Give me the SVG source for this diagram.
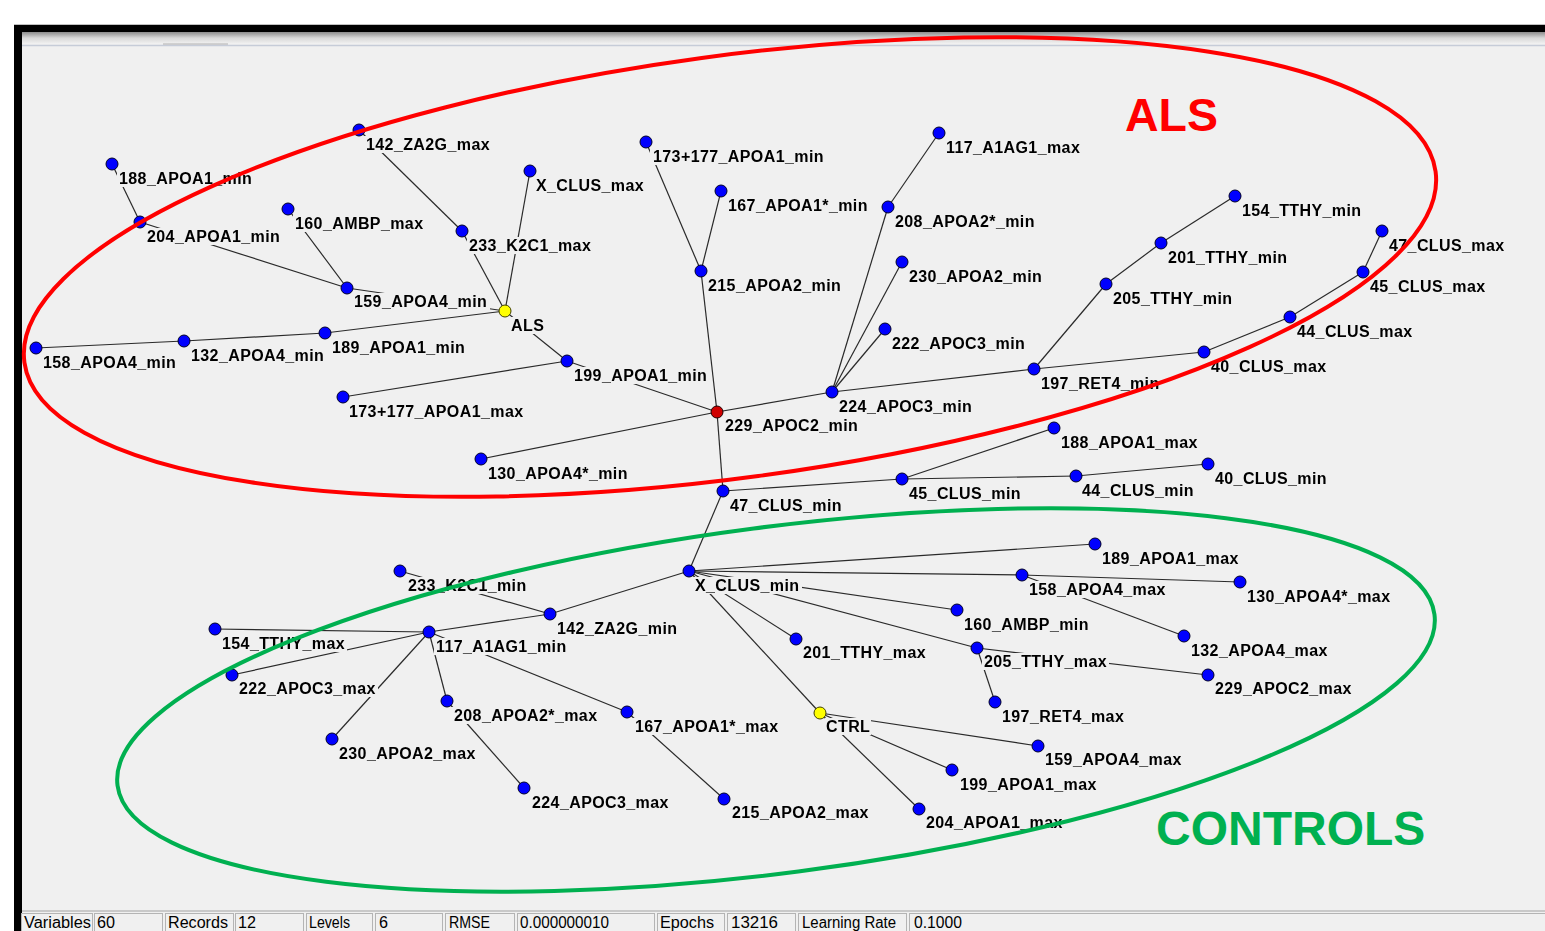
<svg xmlns="http://www.w3.org/2000/svg" width="1545" height="931" viewBox="0 0 1545 931">
<style>
.lbl{font-family:"Liberation Sans",Arial,sans-serif;font-weight:bold;font-size:16px;letter-spacing:0.4px;fill:#000;filter:url(#lbg)}
.dot{fill:#0000ff;stroke:#000028;stroke-width:1}
.cls{fill:#ffff00;stroke:#404000;stroke-width:1}
.red{fill:#d00000;stroke:#200000;stroke-width:1}
#connectors line{stroke:#2a2a2a;stroke-width:1.2}
.sb{font-family:"Liberation Sans",Arial,sans-serif;font-size:16px;fill:#000}
.cell{fill:#f0f0f0;stroke:#b4b4b4;stroke-width:1}
.big{font-family:"Liberation Sans",Arial,sans-serif;font-weight:bold}
</style>
<defs>
<filter id="lbg" x="-0.015" y="0" width="1.03" height="1" color-interpolation-filters="sRGB">
<feFlood flood-color="#f0f0f0" result="f"/>
<feMerge><feMergeNode in="f"/><feMergeNode in="SourceGraphic"/></feMerge>
</filter>
<linearGradient id="tb" x1="0" y1="0" x2="0" y2="1">
<stop offset="0" stop-color="#8c8c8c"/>
<stop offset="0.5" stop-color="#d8d8d8"/>
<stop offset="1" stop-color="#f2f2f2"/>
</linearGradient>
</defs>
<rect x="0" y="0" width="1545" height="931" fill="#ffffff"/>
<rect x="22" y="32" width="1523" height="899" fill="#f0f0f0"/>
<rect x="22" y="32" width="1523" height="12" fill="url(#tb)"/>
<line x1="22" y1="45.5" x2="1545" y2="45.5" stroke="#c6ccd8" stroke-width="1.5"/>
<line x1="163" y1="44" x2="228" y2="44" stroke="#b0b0b0" stroke-width="1"/>
<line x1="14" y1="24.5" x2="1545" y2="24.5" stroke="#c0c0c0" stroke-width="1"/>
<rect x="14" y="25" width="1531" height="7" fill="#000"/>
<rect x="14" y="25" width="8" height="906" fill="#000"/>

<g id="connectors">
<line x1="112" y1="164" x2="140" y2="222"/>
<line x1="140" y1="222" x2="347" y2="288"/>
<line x1="288" y1="209" x2="347" y2="288"/>
<line x1="347" y1="288" x2="505" y2="311"/>
<line x1="359" y1="130" x2="462" y2="231"/>
<line x1="462" y1="231" x2="505" y2="311"/>
<line x1="530" y1="171" x2="505" y2="311"/>
<line x1="505" y1="311" x2="325" y2="333"/>
<line x1="325" y1="333" x2="184" y2="341"/>
<line x1="184" y1="341" x2="36" y2="348"/>
<line x1="505" y1="311" x2="567" y2="361"/>
<line x1="567" y1="361" x2="343" y2="397"/>
<line x1="567" y1="361" x2="717" y2="412"/>
<line x1="717" y1="412" x2="481" y2="459"/>
<line x1="717" y1="412" x2="701" y2="271"/>
<line x1="701" y1="271" x2="646" y2="142"/>
<line x1="701" y1="271" x2="721" y2="191"/>
<line x1="717" y1="412" x2="832" y2="392"/>
<line x1="832" y1="392" x2="888" y2="207"/>
<line x1="888" y1="207" x2="939" y2="133"/>
<line x1="832" y1="392" x2="902" y2="262"/>
<line x1="832" y1="392" x2="885" y2="329"/>
<line x1="832" y1="392" x2="1034" y2="369"/>
<line x1="1034" y1="369" x2="1106" y2="284"/>
<line x1="1106" y1="284" x2="1161" y2="243"/>
<line x1="1161" y1="243" x2="1235" y2="196"/>
<line x1="1034" y1="369" x2="1204" y2="352"/>
<line x1="1204" y1="352" x2="1290" y2="317"/>
<line x1="1290" y1="317" x2="1363" y2="272"/>
<line x1="1363" y1="272" x2="1382" y2="231"/>
<line x1="717" y1="412" x2="723" y2="491"/>
<line x1="723" y1="491" x2="902" y2="479"/>
<line x1="902" y1="479" x2="1054" y2="428"/>
<line x1="902" y1="479" x2="1076" y2="476"/>
<line x1="1076" y1="476" x2="1208" y2="464"/>
<line x1="723" y1="491" x2="689" y2="571"/>
<line x1="689" y1="571" x2="1095" y2="544"/>
<line x1="689" y1="571" x2="1022" y2="575"/>
<line x1="1022" y1="575" x2="1240" y2="582"/>
<line x1="1022" y1="575" x2="1184" y2="636"/>
<line x1="689" y1="571" x2="957" y2="610"/>
<line x1="689" y1="571" x2="977" y2="648"/>
<line x1="977" y1="648" x2="1208" y2="675"/>
<line x1="977" y1="648" x2="995" y2="702"/>
<line x1="689" y1="571" x2="796" y2="639"/>
<line x1="689" y1="571" x2="820" y2="713"/>
<line x1="820" y1="713" x2="1038" y2="746"/>
<line x1="820" y1="713" x2="952" y2="770"/>
<line x1="820" y1="713" x2="919" y2="809"/>
<line x1="689" y1="571" x2="550" y2="614"/>
<line x1="550" y1="614" x2="400" y2="571"/>
<line x1="550" y1="614" x2="429" y2="632"/>
<line x1="429" y1="632" x2="215" y2="629"/>
<line x1="429" y1="632" x2="232" y2="675"/>
<line x1="429" y1="632" x2="332" y2="739"/>
<line x1="429" y1="632" x2="447" y2="701"/>
<line x1="447" y1="701" x2="524" y2="788"/>
<line x1="429" y1="632" x2="627" y2="712"/>
<line x1="627" y1="712" x2="724" y2="799"/>
</g>

<g id="nodes">
<g id="n188_APOA1_min"><text class="lbl" x="119" y="184">188_APOA1_min</text><circle class="dot" cx="112" cy="164" r="6"/></g>
<g id="n204_APOA1_min"><text class="lbl" x="147" y="242">204_APOA1_min</text><circle class="dot" cx="140" cy="222" r="6"/></g>
<g id="n142_ZA2G_max"><text class="lbl" x="366" y="150">142_ZA2G_max</text><circle class="dot" cx="359" cy="130" r="6"/></g>
<g id="n160_AMBP_max"><text class="lbl" x="295" y="229">160_AMBP_max</text><circle class="dot" cx="288" cy="209" r="6"/></g>
<g id="n233_K2C1_max"><text class="lbl" x="469" y="251">233_K2C1_max</text><circle class="dot" cx="462" cy="231" r="6"/></g>
<g id="nX_CLUS_max"><text class="lbl" x="536" y="191">X_CLUS_max</text><circle class="dot" cx="530" cy="171" r="6"/></g>
<g id="n159_APOA4_min"><text class="lbl" x="354" y="307">159_APOA4_min</text><circle class="dot" cx="347" cy="288" r="6"/></g>
<g id="nALS"><text class="lbl" x="511" y="331">ALS</text><circle class="cls" cx="505" cy="311" r="6"/></g>
<g id="n158_APOA4_min"><text class="lbl" x="43" y="368">158_APOA4_min</text><circle class="dot" cx="36" cy="348" r="6"/></g>
<g id="n132_APOA4_min"><text class="lbl" x="191" y="361">132_APOA4_min</text><circle class="dot" cx="184" cy="341" r="6"/></g>
<g id="n189_APOA1_min"><text class="lbl" x="332" y="353">189_APOA1_min</text><circle class="dot" cx="325" cy="333" r="6"/></g>
<g id="n199_APOA1_min"><text class="lbl" x="574" y="381">199_APOA1_min</text><circle class="dot" cx="567" cy="361" r="6"/></g>
<g id="n173p177_APOA1_max"><text class="lbl" x="349" y="417">173+177_APOA1_max</text><circle class="dot" cx="343" cy="397" r="6"/></g>
<g id="n130_APOA4s_min"><text class="lbl" x="488" y="479">130_APOA4*_min</text><circle class="dot" cx="481" cy="459" r="6"/></g>
<g id="n229_APOC2_min"><text class="lbl" x="725" y="431">229_APOC2_min</text><circle class="red" cx="717" cy="412" r="6"/></g>
<g id="n215_APOA2_min"><text class="lbl" x="708" y="291">215_APOA2_min</text><circle class="dot" cx="701" cy="271" r="6"/></g>
<g id="n173p177_APOA1_min"><text class="lbl" x="653" y="162">173+177_APOA1_min</text><circle class="dot" cx="646" cy="142" r="6"/></g>
<g id="n167_APOA1s_min"><text class="lbl" x="728" y="211">167_APOA1*_min</text><circle class="dot" cx="721" cy="191" r="6"/></g>
<g id="n224_APOC3_min"><text class="lbl" x="839" y="412">224_APOC3_min</text><circle class="dot" cx="832" cy="392" r="6"/></g>
<g id="n208_APOA2s_min"><text class="lbl" x="895" y="227">208_APOA2*_min</text><circle class="dot" cx="888" cy="207" r="6"/></g>
<g id="n117_A1AG1_max"><text class="lbl" x="946" y="153">117_A1AG1_max</text><circle class="dot" cx="939" cy="133" r="6"/></g>
<g id="n230_APOA2_min"><text class="lbl" x="909" y="282">230_APOA2_min</text><circle class="dot" cx="902" cy="262" r="6"/></g>
<g id="n222_APOC3_min"><text class="lbl" x="892" y="349">222_APOC3_min</text><circle class="dot" cx="885" cy="329" r="6"/></g>
<g id="n197_RET4_min"><text class="lbl" x="1041" y="389">197_RET4_min</text><circle class="dot" cx="1034" cy="369" r="6"/></g>
<g id="n205_TTHY_min"><text class="lbl" x="1113" y="304">205_TTHY_min</text><circle class="dot" cx="1106" cy="284" r="6"/></g>
<g id="n201_TTHY_min"><text class="lbl" x="1168" y="263">201_TTHY_min</text><circle class="dot" cx="1161" cy="243" r="6"/></g>
<g id="n154_TTHY_min"><text class="lbl" x="1242" y="216">154_TTHY_min</text><circle class="dot" cx="1235" cy="196" r="6"/></g>
<g id="n40_CLUS_max"><text class="lbl" x="1211" y="372">40_CLUS_max</text><circle class="dot" cx="1204" cy="352" r="6"/></g>
<g id="n44_CLUS_max"><text class="lbl" x="1297" y="337">44_CLUS_max</text><circle class="dot" cx="1290" cy="317" r="6"/></g>
<g id="n45_CLUS_max"><text class="lbl" x="1370" y="292">45_CLUS_max</text><circle class="dot" cx="1363" cy="272" r="6"/></g>
<g id="n47_CLUS_max"><text class="lbl" x="1389" y="251">47_CLUS_max</text><circle class="dot" cx="1382" cy="231" r="6"/></g>
<g id="n47_CLUS_min"><text class="lbl" x="730" y="511">47_CLUS_min</text><circle class="dot" cx="723" cy="491" r="6"/></g>
<g id="n45_CLUS_min"><text class="lbl" x="909" y="499">45_CLUS_min</text><circle class="dot" cx="902" cy="479" r="6"/></g>
<g id="n188_APOA1_max"><text class="lbl" x="1061" y="448">188_APOA1_max</text><circle class="dot" cx="1054" cy="428" r="6"/></g>
<g id="n44_CLUS_min"><text class="lbl" x="1082" y="496">44_CLUS_min</text><circle class="dot" cx="1076" cy="476" r="6"/></g>
<g id="n40_CLUS_min"><text class="lbl" x="1215" y="484">40_CLUS_min</text><circle class="dot" cx="1208" cy="464" r="6"/></g>

<g id="nX_CLUS_min"><text class="lbl" x="695" y="591">X_CLUS_min</text><circle class="dot" cx="689" cy="571" r="6"/></g>
<g id="n189_APOA1_max"><text class="lbl" x="1102" y="564">189_APOA1_max</text><circle class="dot" cx="1095" cy="544" r="6"/></g>
<g id="n158_APOA4_max"><text class="lbl" x="1029" y="595">158_APOA4_max</text><circle class="dot" cx="1022" cy="575" r="6"/></g>
<g id="n130_APOA4s_max"><text class="lbl" x="1247" y="602">130_APOA4*_max</text><circle class="dot" cx="1240" cy="582" r="6"/></g>
<g id="n132_APOA4_max"><text class="lbl" x="1191" y="656">132_APOA4_max</text><circle class="dot" cx="1184" cy="636" r="6"/></g>
<g id="n160_AMBP_min"><text class="lbl" x="964" y="630">160_AMBP_min</text><circle class="dot" cx="957" cy="610" r="6"/></g>
<g id="n205_TTHY_max"><text class="lbl" x="984" y="667">205_TTHY_max</text><circle class="dot" cx="977" cy="648" r="6"/></g>
<g id="n229_APOC2_max"><text class="lbl" x="1215" y="694">229_APOC2_max</text><circle class="dot" cx="1208" cy="675" r="6"/></g>
<g id="n197_RET4_max"><text class="lbl" x="1002" y="722">197_RET4_max</text><circle class="dot" cx="995" cy="702" r="6"/></g>
<g id="n201_TTHY_max"><text class="lbl" x="803" y="658">201_TTHY_max</text><circle class="dot" cx="796" cy="639" r="6"/></g>
<g id="nCTRL"><text class="lbl" x="826" y="732">CTRL</text><circle class="cls" cx="820" cy="713" r="6"/></g>
<g id="n159_APOA4_max"><text class="lbl" x="1045" y="765">159_APOA4_max</text><circle class="dot" cx="1038" cy="746" r="6"/></g>
<g id="n199_APOA1_max"><text class="lbl" x="960" y="790">199_APOA1_max</text><circle class="dot" cx="952" cy="770" r="6"/></g>
<g id="n204_APOA1_max"><text class="lbl" x="926" y="828">204_APOA1_max</text><circle class="dot" cx="919" cy="809" r="6"/></g>
<g id="n142_ZA2G_min"><text class="lbl" x="557" y="634">142_ZA2G_min</text><circle class="dot" cx="550" cy="614" r="6"/></g>
<g id="n233_K2C1_min"><text class="lbl" x="408" y="591">233_K2C1_min</text><circle class="dot" cx="400" cy="571" r="6"/></g>
<g id="n117_A1AG1_min"><text class="lbl" x="436" y="652">117_A1AG1_min</text><circle class="dot" cx="429" cy="632" r="6"/></g>
<g id="n154_TTHY_max"><text class="lbl" x="222" y="649">154_TTHY_max</text><circle class="dot" cx="215" cy="629" r="6"/></g>
<g id="n222_APOC3_max"><text class="lbl" x="239" y="694">222_APOC3_max</text><circle class="dot" cx="232" cy="675" r="6"/></g>
<g id="n230_APOA2_max"><text class="lbl" x="339" y="759">230_APOA2_max</text><circle class="dot" cx="332" cy="739" r="6"/></g>
<g id="n208_APOA2s_max"><text class="lbl" x="454" y="721">208_APOA2*_max</text><circle class="dot" cx="447" cy="701" r="6"/></g>
<g id="n224_APOC3_max"><text class="lbl" x="532" y="808">224_APOC3_max</text><circle class="dot" cx="524" cy="788" r="6"/></g>
<g id="n167_APOA1s_max"><text class="lbl" x="635" y="732">167_APOA1*_max</text><circle class="dot" cx="627" cy="712" r="6"/></g>
<g id="n215_APOA2_max"><text class="lbl" x="732" y="818">215_APOA2_max</text><circle class="dot" cx="724" cy="799" r="6"/></g>
</g>

<g id="groups">
<ellipse cx="730" cy="267" rx="712" ry="211" transform="rotate(-7.7 730 267)" fill="none" stroke="#ff0000" stroke-width="4"/>
<ellipse cx="776" cy="700" rx="664" ry="173" transform="rotate(-7.4 776 700)" fill="none" stroke="#00b050" stroke-width="4"/>
<text class="big" x="1125" y="131" font-size="46.5" fill="#ff0000">ALS</text>
<text class="big" x="1156" y="845" font-size="48" fill="#00b050">CONTROLS</text>
</g>

<g id="statusbar">
<line x1="22" y1="911" x2="1545" y2="911" stroke="#bcbcbc" stroke-width="1.5"/>
<rect class="cell" x="21.5" y="913.5" width="71" height="20"/>
<rect class="cell" x="94.5" y="913.5" width="68" height="20"/>
<rect class="cell" x="165.5" y="913.5" width="68" height="20"/>
<rect class="cell" x="235.5" y="913.5" width="68" height="20"/>
<rect class="cell" x="306.5" y="913.5" width="66" height="20"/>
<rect class="cell" x="375.5" y="913.5" width="67" height="20"/>
<rect class="cell" x="445.5" y="913.5" width="69" height="20"/>
<rect class="cell" x="517.5" y="913.5" width="137" height="20"/>
<rect class="cell" x="657.5" y="913.5" width="67" height="20"/>
<rect class="cell" x="727.5" y="913.5" width="68" height="20"/>
<rect class="cell" x="798.5" y="913.5" width="108" height="20"/>
<rect class="cell" x="909.5" y="913.5" width="640" height="20"/>
<text class="sb" x="24" y="928" textLength="67" lengthAdjust="spacingAndGlyphs">Variables</text>
<text class="sb" x="97" y="928" textLength="18" lengthAdjust="spacingAndGlyphs">60</text>
<text class="sb" x="168" y="928" textLength="60" lengthAdjust="spacingAndGlyphs">Records</text>
<text class="sb" x="238" y="928" textLength="18" lengthAdjust="spacingAndGlyphs">12</text>
<text class="sb" x="309" y="928" textLength="41" lengthAdjust="spacingAndGlyphs">Levels</text>
<text class="sb" x="379" y="928" textLength="9" lengthAdjust="spacingAndGlyphs">6</text>
<text class="sb" x="449" y="928" textLength="41" lengthAdjust="spacingAndGlyphs">RMSE</text>
<text class="sb" x="520" y="928" textLength="89" lengthAdjust="spacingAndGlyphs">0.000000010</text>
<text class="sb" x="660" y="928" textLength="54" lengthAdjust="spacingAndGlyphs">Epochs</text>
<text class="sb" x="731" y="928" textLength="47" lengthAdjust="spacingAndGlyphs">13216</text>
<text class="sb" x="802" y="928" textLength="94" lengthAdjust="spacingAndGlyphs">Learning Rate</text>
<text class="sb" x="914" y="928" textLength="48" lengthAdjust="spacingAndGlyphs">0.1000</text>
</g>
</svg>
